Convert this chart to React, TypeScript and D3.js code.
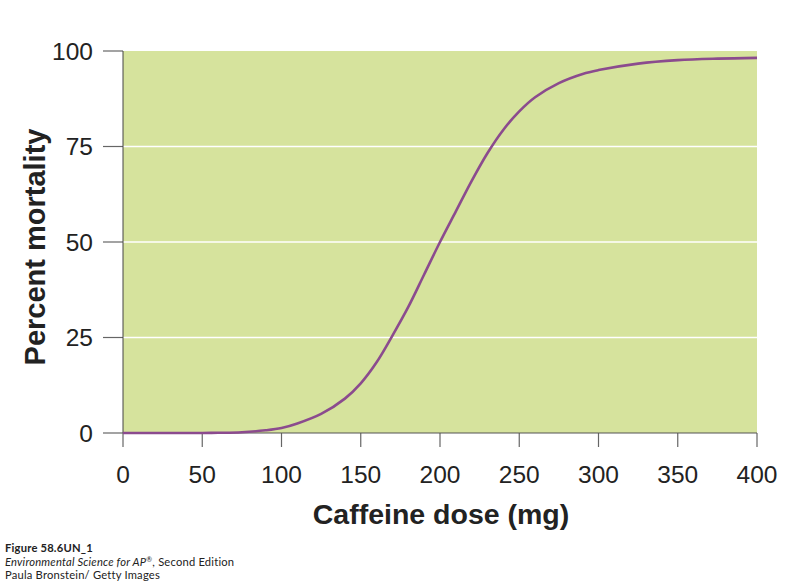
import React from "react";
import * as d3 from "d3";

const doses = [0, 25, 50, 60, 75, 90, 100, 110, 125, 140, 150, 160, 170, 180, 190, 200, 210, 220, 230, 240, 250, 260, 275, 290, 300, 325, 350, 375, 400];
const mortality = [0, 0, 0, 0.05, 0.2, 0.7, 1.3, 2.5, 5, 9, 13, 18.5, 25.5, 33, 41.5, 50, 58, 66, 73.3, 79.4, 84.2, 87.9, 91.6, 94, 95, 96.7, 97.6, 98, 98.2];
const xTicks = [0, 50, 100, 150, 200, 250, 300, 350, 400];
const yTicks = [0, 25, 50, 75, 100];
const captionLines = ["Figure 58.6UN_1", "Environmental Science for AP®, Second Edition", "Paula Bronstein/ Getty Images"];

export default function App() {
  const W = 800, H = 585;
  const left = 123, right = 757, top = 51, bottom = 433;
  const x = d3.scaleLinear().domain([0, 400]).range([left, right]);
  const y = d3.scaleLinear().domain([0, 100]).range([bottom, top]);
  const data = doses.map((d, i) => [d, mortality[i]] as [number, number]);
  const line = d3.line<[number, number]>().x(d => x(d[0])).y(d => y(d[1])).curve(d3.curveCatmullRom.alpha(0.5));
  const font = "'Liberation Sans', Arial, Helvetica, sans-serif";
  const capFont = "Lato, 'Open Sans', sans-serif";
  return (
    <svg width={W} height={H} style={{ position: "absolute", left: 0, top: 0, background: "#fff" }}>
      <rect x={left} y={top} width={right - left} height={bottom - top} fill="#d6e39d" />
      {yTicks.filter(t => t > 0 && t < 100).map(t => (
        <line key={"g" + t} x1={left} x2={right} y1={y(t)} y2={y(t)} stroke="#fff" strokeWidth={1.5} />
      ))}
      {yTicks.map(t => (
        <g key={"y" + t}>
          <line x1={103} x2={left} y1={y(t)} y2={y(t)} stroke="#666" strokeWidth={1.2} />
          <text x={93} y={y(t)} dy="0.36em" textAnchor="end" fontFamily={font} fontSize={24.5} fill="#222">{t}</text>
        </g>
      ))}
      {xTicks.map(t => (
        <g key={"x" + t}>
          <line x1={x(t)} x2={x(t)} y1={bottom} y2={bottom + 14} stroke="#666" strokeWidth={1.2} />
          <text x={x(t)} y={483} textAnchor="middle" fontFamily={font} fontSize={24.5} fill="#222">{t}</text>
        </g>
      ))}
      <line x1={left} x2={left} y1={top} y2={bottom} stroke="#444" strokeWidth={1} />
      <line x1={left} x2={right} y1={bottom} y2={bottom} stroke="#555" strokeWidth={1.2} />
      <path d={line(data) || ""} fill="none" stroke="#8b4b8e" strokeWidth={2.6} />
      <text x={441} y={524} textAnchor="middle" fontFamily={font} fontSize={28.5} fontWeight="bold" fill="#222">Caffeine dose (mg)</text>
      <text transform={`translate(45,247) rotate(-90)`} textAnchor="middle" fontFamily={font} fontSize={29} fontWeight="bold" fill="#222">Percent mortality</text>
      <text x={5} y={552} fontFamily={capFont} fontSize={11.2} letterSpacing={0.2} fontWeight="bold" fill="#222">{captionLines[0]}</text>
      <text x={5} y={565.5} fontFamily={capFont} fontSize={11.2} letterSpacing={0.2} fill="#222">
        <tspan fontStyle="italic">Environmental Science for AP</tspan><tspan fontStyle="italic" fontSize={7} dy={-3.5}>®</tspan><tspan dy={3.5}>, Second Edition</tspan>
      </text>
      <text x={5} y={579} fontFamily={capFont} fontSize={11.2} letterSpacing={0.2} fill="#222">{captionLines[2]}</text>
    </svg>
  );
}
